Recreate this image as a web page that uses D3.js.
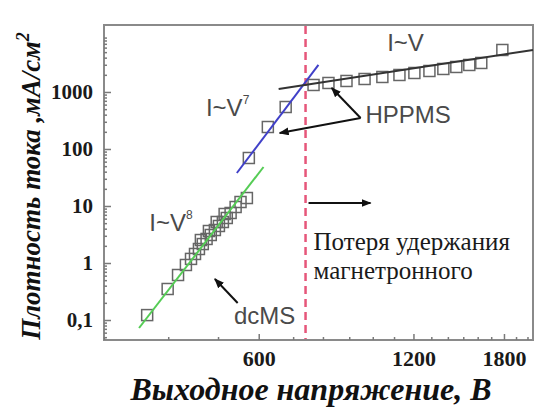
<!DOCTYPE html>
<html lang="ru">
<head>
<meta charset="UTF-8">
<title>Плотность тока</title>
<script src="https://cdn.jsdelivr.net/npm/d3@7"></script>
<style>
  body { margin: 0; background: #fff; }
  .tick text { font-family: "Liberation Serif", serif; font-weight: bold; font-size: 21px; fill: #1a1a1a; }
  .tick line { stroke: #7a7a7a; stroke-width: 1.5; }
  .note { font-family: "Liberation Sans", Arial, sans-serif; font-size: 24px; fill: #4a4a4a; }
  .ru { font-family: "Liberation Serif", serif; font-size: 25px; fill: #1a1a1a; }
  .title { font-family: "Liberation Serif", serif; font-weight: bold; font-style: italic; fill: #111; }
</style>
</head>
<body>
<svg id="chart" width="536" height="410"></svg>
<script>
// dcMS (напряжение, В / плотность тока, мА/см2)
const dcmsV = [364, 399, 418, 433, 443, 451, 459, 463, 467, 475, 480, 484, 493, 497, 502, 511, 515, 520, 529, 541, 553, 569];
const dcmsJ = [0.122, 0.350, 0.616, 0.923, 1.18, 1.44, 1.76, 2.53, 2.15, 2.64, 3.64, 3.10, 3.79, 5.24, 4.46, 5.24, 7.24, 6.16, 7.54, 9.60, 11.75, 13.8];
// HPPMS
const hppmsV = [574, 625, 677, 767, 820, 889, 964, 1044, 1127, 1205, 1289, 1372, 1454, 1541, 1626, 1787];
const hppmsJ = [69.5, 243, 545, 1327, 1438, 1560, 1690, 1833, 1987, 2154, 2335, 2533, 2746, 2977, 3228, 5454];
// аппроксимации
const fitV8V = [351, 613], fitV8J = [0.0724, 48.3];
const fitV7V = [544, 784], fitV7J = [37.9, 2977];
const fitV1V = [656, 2050], fitV1J = [1129, 5454];
const limitV = 740;
// подписи осей
const xTicks = [600, 1200, 1800];
const yTicks = [0.1, 1, 10, 100, 1000];
const yTickLabels = ["0,1", "1", "10", "100", "1000"];

const svg = d3.select("#chart");
const x = d3.scaleLog().domain([300, 2050]).range([104, 533]);
const y = d3.scaleLog().domain([0.0446, 14960]).range([340, 25]);

// рамка
svg.append("rect")
  .attr("x", 104).attr("y", 25)
  .attr("width", 429).attr("height", 315)
  .attr("fill", "none").attr("stroke", "#8a8a8a").attr("stroke-width", 2);

// оси
const yMinor = [];
for (let d = 0.01; d <= 10000; d *= 10) {
  for (let k = 2; k <= 9; k++) {
    const v = d * k;
    if (v > y.domain()[0] && v < y.domain()[1]) yMinor.push(v);
  }
}
svg.append("g").attr("transform", "translate(104,0)")
  .call(d3.axisLeft(y).tickValues(yMinor).tickSizeInner(-3).tickSizeOuter(0).tickFormat(""))
  .call(g => g.select(".domain").remove());
svg.append("g").attr("transform", "translate(104,0)")
  .call(d3.axisLeft(y).tickValues(yTicks).tickSizeInner(-7).tickSizeOuter(0).tickPadding(11)
    .tickFormat((d, i) => yTickLabels[i]))
  .call(g => g.select(".domain").remove());

const xMinor = d3.range(300, 2001, 100).filter(v => !xTicks.includes(v));
svg.append("g").attr("transform", "translate(0,340)")
  .call(d3.axisBottom(x).tickValues(xMinor).tickSizeInner(-3).tickSizeOuter(0).tickFormat(""))
  .call(g => g.select(".domain").remove());
svg.append("g").attr("transform", "translate(0,340)")
  .call(d3.axisBottom(x).tickValues(xTicks).tickSizeInner(-6).tickSizeOuter(0).tickPadding(10)
    .tickFormat(d3.format("d")))
  .call(g => g.select(".domain").remove())
  .selectAll("text").style("font-size", "22px");

// пунктир
svg.append("line")
  .attr("x1", x(limitV)).attr("x2", x(limitV))
  .attr("y1", 26).attr("y2", 339)
  .attr("stroke", "#e6567a").attr("stroke-width", 2.5).attr("stroke-dasharray", "8,5");

// точки
function squares(vs, js) {
  svg.append("g").selectAll("rect")
    .data(vs.map((v, i) => [v, js[i]]))
    .join("rect")
    .attr("x", d => x(d[0]) - 5.5).attr("y", d => y(d[1]) - 5.5)
    .attr("width", 11).attr("height", 11)
    .attr("fill", "none").attr("stroke", "#666").attr("stroke-width", 1.5);
}
squares(dcmsV, dcmsJ);
squares(hppmsV, hppmsJ);

// линии аппроксимации
const line = d3.line().x(d => x(d[0])).y(d => y(d[1]));
function fit(vs, js, color) {
  svg.append("path")
    .attr("d", line(vs.map((v, i) => [v, js[i]])))
    .attr("stroke", color).attr("stroke-width", 2).attr("fill", "none");
}
fit(fitV8V, fitV8J, "#55cc55");
fit(fitV7V, fitV7J, "#4040c8");
fit(fitV1V, fitV1J, "#333");

// стрелки
svg.append("defs").append("marker")
  .attr("id", "head").attr("viewBox", "0 0 10 8")
  .attr("refX", 9).attr("refY", 4)
  .attr("markerWidth", 10).attr("markerHeight", 8)
  .attr("markerUnits", "userSpaceOnUse").attr("orient", "auto")
  .append("path").attr("d", "M0,0L10,4L0,8Z").attr("fill", "#111");

function arrow(v1, j1, v2, j2) {
  svg.append("line")
    .attr("x1", x(v1)).attr("y1", y(j1))
    .attr("x2", x(v2)).attr("y2", y(j2))
    .attr("stroke", "#111").attr("stroke-width", 2)
    .attr("marker-end", "url(#head)");
}
arrow(947, 350, 832, 1175);
arrow(947, 350, 659, 191);
arrow(546, 0.199, 493, 0.524);
arrow(750, 11.3, 990, 11.3);

// подписи
function note(v, j, txt, sup, anchor) {
  const t = svg.append("text").attr("class", "note")
    .attr("x", x(v)).attr("y", y(j))
    .attr("dominant-baseline", "middle")
    .attr("text-anchor", anchor || "middle")
    .text(txt);
  if (sup) t.append("tspan").attr("dy", -9).style("font-size", "12px").text(sup);
}
note(1158, 6680, "I~V");
note(522, 483, "I~V", "7");
note(405, 4.64, "I~V", "8");
note(968, 364, "HPPMS", null, "start");
note(537, 0.108, "dcMS", null, "start");

svg.append("text").attr("class", "ru")
  .attr("x", x(767)).attr("y", y(2.15)).attr("dominant-baseline", "middle")
  .text("Потеря удержания");
svg.append("text").attr("class", "ru")
  .attr("x", x(767)).attr("y", y(0.67)).attr("dominant-baseline", "middle")
  .text("магнетронного");

// названия осей
svg.append("text").attr("class", "title")
  .attr("x", 311).attr("y", 400).attr("text-anchor", "middle")
  .style("font-size", "32px")
  .text("Выходное напряжение, В");

const yt = svg.append("text").attr("class", "title")
  .attr("transform", "translate(40,186) rotate(-90)")
  .attr("text-anchor", "middle")
  .style("font-size", "27px")
  .text("Плотность тока ,мА/см");
yt.append("tspan").attr("dy", -11).style("font-size", "18px").text("2");
</script>
</body>
</html>
